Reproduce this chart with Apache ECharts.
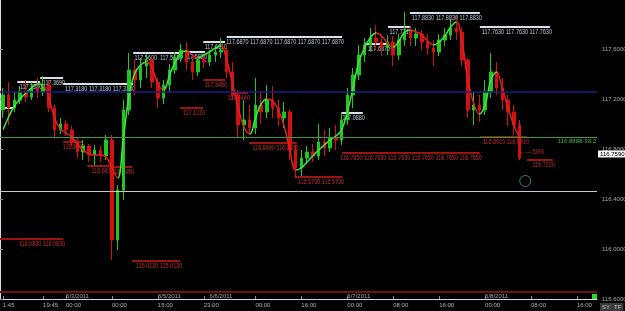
<!DOCTYPE html>
<html>
<head>
<meta charset="utf-8">
<script src="https://cdn.jsdelivr.net/npm/echarts@6/dist/echarts.min.js"></script>
<style>
  html, body { margin: 0; padding: 0; background: #000; }
  #chart { width: 625px; height: 311px; }
</style>
</head>
<body>
<div id="chart"></div>
<script>
// hourly candles, [open, close, low, high]
var candles = [
  [117.112, 117.232, 117.048, 117.288], [117.232, 117.128, 116.992, 117.336], [117.128, 117.192, 117.096, 117.256],
  [117.192, 117.256, 117.160, 117.304], [117.256, 117.216, 117.176, 117.352], [117.216, 117.288, 117.192, 117.336],
  [117.288, 117.256, 117.208, 117.368], [117.256, 117.312, 117.224, 117.384], [117.312, 117.128, 117.096, 117.352],
  [117.128, 116.952, 116.896, 117.152], [116.952, 117.000, 116.920, 117.048], [117.000, 116.952, 116.904, 117.032],
  [116.952, 116.856, 116.824, 116.984], [116.856, 116.776, 116.728, 116.888], [116.776, 116.824, 116.712, 116.872],
  [116.824, 116.752, 116.696, 116.840], [116.752, 116.792, 116.672, 116.832], [116.792, 116.744, 116.696, 116.824],
  [116.744, 116.872, 116.712, 116.912], [116.872, 116.072, 115.912, 116.912], [116.072, 116.472, 115.992, 116.512],
  [116.472, 117.112, 116.392, 117.192], [117.112, 117.432, 117.072, 117.568], [117.432, 117.352, 117.232, 117.512],
  [117.352, 117.464, 117.288, 117.528], [117.464, 117.512, 117.368, 117.560], [117.512, 117.336, 117.288, 117.544],
  [117.336, 117.208, 117.128, 117.368], [117.208, 117.312, 117.160, 117.352], [117.312, 117.432, 117.256, 117.480],
  [117.432, 117.528, 117.400, 117.576], [117.528, 117.592, 117.496, 117.640], [117.592, 117.496, 117.432, 117.656],
  [117.496, 117.416, 117.352, 117.544], [117.416, 117.512, 117.384, 117.544], [117.512, 117.496, 117.448, 117.560],
  [117.496, 117.552, 117.464, 117.592], [117.552, 117.576, 117.496, 117.624], [117.576, 117.592, 117.528, 117.688],
  [117.592, 117.416, 117.368, 117.632], [117.416, 117.232, 117.192, 117.496], [117.232, 116.992, 116.888, 117.272],
  [116.992, 117.032, 116.872, 117.192], [117.032, 116.968, 116.912, 117.152], [116.968, 117.152, 116.920, 117.368],
  [117.152, 117.096, 117.000, 117.256], [117.096, 117.192, 117.048, 117.312], [117.192, 117.128, 117.048, 117.304],
  [117.128, 117.048, 116.984, 117.192], [117.048, 117.096, 116.968, 117.176], [117.096, 116.792, 116.712, 117.112],
  [116.792, 116.648, 116.568, 116.832], [116.648, 116.728, 116.584, 116.792], [116.728, 116.776, 116.680, 116.824],
  [116.776, 116.744, 116.696, 116.840], [116.744, 116.856, 116.712, 117.000], [116.856, 116.808, 116.744, 116.952],
  [116.808, 116.888, 116.776, 116.968], [116.888, 116.872, 116.792, 116.992], [116.872, 117.032, 116.832, 117.096],
  [117.032, 117.232, 116.992, 117.288], [117.232, 117.392, 117.128, 117.448], [117.392, 117.552, 117.352, 117.632],
  [117.552, 117.632, 117.496, 117.688], [117.632, 117.688, 117.576, 117.768], [117.688, 117.656, 117.592, 117.792],
  [117.656, 117.608, 117.544, 117.720], [117.608, 117.656, 117.552, 117.712], [117.656, 117.552, 117.464, 117.704],
  [117.552, 117.672, 117.512, 117.720], [117.672, 117.736, 117.624, 117.896], [117.736, 117.688, 117.624, 117.784],
  [117.688, 117.720, 117.624, 117.768], [117.720, 117.656, 117.592, 117.752], [117.656, 117.608, 117.552, 117.720],
  [117.608, 117.576, 117.464, 117.672], [117.576, 117.672, 117.544, 117.720], [117.672, 117.712, 117.624, 117.768],
  [117.712, 117.768, 117.672, 117.832], [117.768, 117.736, 117.672, 117.864], [117.736, 117.512, 117.464, 117.768],
  [117.512, 117.112, 117.048, 117.528], [117.112, 117.152, 116.992, 117.256], [117.152, 117.112, 117.016, 117.232],
  [117.112, 117.256, 117.072, 117.352], [117.256, 117.416, 117.208, 117.568], [117.416, 117.288, 117.232, 117.496],
  [117.288, 117.192, 117.112, 117.368], [117.192, 117.096, 116.984, 117.232], [117.096, 116.992, 116.912, 117.152],
  [116.992, 116.728, 116.712, 117.032]
];

// smoothed average drawn over the candles
var maValues = [
  116.952, 117.056, 117.144, 117.200, 117.248, 117.288, 117.320, 117.312, 117.208, 117.048,
  116.960, 116.928, 116.896, 116.840, 116.792, 116.760, 116.752, 116.752, 116.736, 116.648,
  116.568, 116.888, 117.232, 117.408, 117.472, 117.496, 117.448, 117.320, 117.272, 117.384,
  117.496, 117.568, 117.584, 117.552, 117.528, 117.552, 117.576, 117.608, 117.624, 117.512,
  117.328, 117.128, 116.976, 116.920, 117.048, 117.160, 117.200, 117.184, 117.112, 116.984,
  116.792, 116.632, 116.648, 116.696, 116.744, 116.792, 116.832, 116.872, 116.904, 116.952,
  117.096, 117.288, 117.496, 117.608, 117.688, 117.728, 117.704, 117.648, 117.616, 117.664,
  117.736, 117.752, 117.736, 117.712, 117.664, 117.632, 117.656, 117.704, 117.776, 117.816,
  117.656, 117.352, 117.168, 117.080, 117.152, 117.352, 117.416, 117.288, 117.128, 116.992,
  116.888
];
// [from, to, rising?]
var maSegments = [
  [0, 7, 1], [7, 20, 0], [20, 25, 1], [25, 28, 0], [28, 32, 1], [32, 34, 0], [34, 38, 1],
  [38, 43, 0], [43, 46, 1], [46, 51, 0], [51, 65, 1], [65, 68, 0], [68, 71, 1], [71, 75, 0],
  [75, 79, 1], [79, 83, 0], [83, 86, 1], [86, 91, 0]
];

var slotCount = 104;
var timeTicks = [[0, '1:45'], [7, '19:45'], [11, '00:00'], [19, '00:00'], [27, '15:00'], [35, '23:00'],
  [44, '00:00'], [52, '16:00'], [60, '00:00'], [68, '08:00'], [76, '16:00'], [84, '00:00'],
  [92, '08:00'], [100, '16:00']];
var dateTicks = [[13, '6/3/2011'], [29, '6/5/2011'], [38, '6/6/2011'], [62, '6/7/2011'], [86, '6/8/2011']];

// level lines: [fromSlot, toSlot, price, text]
var resistLevels = [
  [0, 2.6, 117.128, ''],
  [3.0, 7.0, 117.336, '117.3380'],
  [7.0, 11.0, 117.368, '117.3690'],
  [11.0, 23.2, 117.320, '117.3180 117.3180 117.3180'],
  [23.2, 27.0, 117.568, '117.5600'],
  [27.0, 31.4, 117.568, '117.5630'],
  [32.2, 35.7, 117.576, '117.5820'],
  [35.4, 39.2, 117.656, '117.6610'],
  [39.5, 59.6, 117.696, '117.6870 117.6870 117.6870 117.6870 117.6870'],
  [59.6, 63.2, 117.088, '117.0880'],
  [63.6, 67.6, 117.640, '117.6370'],
  [67.6, 71.4, 117.776, '117.7710'],
  [71.4, 83.6, 117.888, '117.8830 117.8830 117.8830'],
  [83.6, 95.8, 117.776, '117.7630 117.7630 117.7630']
];
var supportLevels = [
  [0, 11.0, 116.080, '116.0830 116.0830'],
  [11.0, 14.5, 116.856, '116.8560'],
  [15.2, 19.5, 116.664, '116.6610'],
  [19.5, 23.0, 116.656, '116.6490'],
  [23.0, 31.4, 115.904, '115.9130 115.9130'],
  [31.4, 35.4, 117.128, '117.1220'],
  [35.4, 39.2, 117.352, '117.3480'],
  [40.6, 43.2, 117.248, '117.2440'],
  [43.4, 51.7, 116.848, '116.8490 116.8490'],
  [51.4, 59.6, 116.576, '116.5730 116.5730'],
  [59.6, 83.6, 116.768, '116.7650 116.7650 116.7650 116.7650 116.7650 116.7650'],
  [83.6, 91.8, 116.896, '116.8910 116.8910'],
  [91.8, 96.3, 116.712, '116.7220']
];
var noteArrow = [90.6, 116.772, '\u2190\u2014 50%'];
var circleMark = [91.5, 116.544];

var blueLevel = 117.264;
var fibLevel = 116.8888;
var whiteLevel = 116.456;
var floorLevel = 115.664;
var lastPrice = 116.759;

var smallFont = "'Liberation Sans', sans-serif";

var timeCats = [], dateCats = [];
for (var i = 0; i < slotCount; i++) { timeCats.push(''); dateCats.push(''); }
timeTicks.forEach(function (t) { timeCats[t[0]] = t[1]; });
dateTicks.forEach(function (t) { dateCats[t[0]] = t[1]; });

var levels = [];
resistLevels.forEach(function (l) { levels.push(l.concat(['w'])); });
supportLevels.forEach(function (l) { levels.push(l.concat(['r'])); });

function renderLevel(params, api) {
    var lv = levels[params.dataIndex];
    var p1 = api.coord([lv[0], lv[2]]);
    var p2 = api.coord([lv[1], lv[2]]);
    var red = lv[4] === 'r';
    return {
        type: 'group',
        children: [
            {type: 'line', shape: {x1: p1[0], y1: p1[1], x2: p2[0], y2: p2[1]},
             style: {stroke: red ? '#9a1414' : '#d6e0e8', lineWidth: 2}},
            {type: 'text', x: p2[0] + 2, y: p1[1] + 2, scaleX: 0.78,
             style: {text: lv[3], x: 0, y: 0, align: 'right', verticalAlign: 'top',
             fill: red ? '#c42a2a' : '#b8c8d8', fontSize: 7, fontFamily: smallFont}}
        ]
    };
}

function renderNote(params, api) {
    var p = api.coord([noteArrow[0], noteArrow[1]]);
    return {type: 'text', x: p[0], y: p[1], scaleX: 0.8,
        style: {text: noteArrow[2], x: 0, y: 0, verticalAlign: 'middle',
        fill: '#c42a2a', fontSize: 7, fontFamily: smallFont}};
}

var myChart = echarts.init(document.getElementById('chart'));

var option = {
    backgroundColor: '#000',
    animation: false,
    grid: {left: 0, right: 28, top: -1, bottom: 12, outerBoundsMode: 'none'},
    xAxis: [
        {
            type: 'category', data: timeCats, boundaryGap: true,
            axisLine: {lineStyle: {color: '#d8d8d8', width: 1}},
            axisTick: {show: true, inside: true, length: 3, alignWithLabel: true,
                interval: function (idx, val) { return val !== ''; }, lineStyle: {color: '#909090'}},
            axisLabel: {interval: 0, align: 'left', margin: 3, color: '#b0b0b0', fontSize: 6, fontFamily: smallFont},
            splitLine: {show: false}
        },
        {type: 'value', min: 0, max: slotCount, show: false},
        {
            type: 'category', data: dateCats, boundaryGap: true, position: 'bottom', offset: 0,
            axisLine: {show: false}, axisTick: {show: false},
            axisLabel: {inside: true, interval: 0, margin: 0, color: '#a8a8a8', fontSize: 6, fontFamily: smallFont},
            splitLine: {show: false}
        }
    ],
    yAxis: {
        type: 'value', position: 'right', min: 115.6, max: 118.0, interval: 0.4,
        axisLine: {show: true, lineStyle: {color: '#d8d8d8'}},
        axisTick: {show: true, length: 3, lineStyle: {color: '#909090'}},
        axisLabel: {color: '#a8a8a8', fontSize: 6, margin: 5, fontFamily: smallFont, showMaxLabel: false,
            formatter: function (v) { return v.toFixed(4); }},
        splitLine: {show: false}
    },
    visualMap: {
        show: false, type: 'piecewise', seriesIndex: 1, dimension: 0,
        pieces: maSegments.map(function (s, k) {
            var p = {gte: s[0], color: s[2] ? '#3ee83e' : '#e02020'};
            if (k === maSegments.length - 1) p.lte = s[1]; else p.lt = s[1];
            return p;
        })
    },
    series: [
        {
            type: 'candlestick', xAxisIndex: 0, data: candles, barWidth: 3,
            itemStyle: {color: '#1ec81e', color0: '#d41010', borderColor: '#1ec81e', borderColor0: '#d41010', borderWidth: 1},
            markLine: {
                silent: true, symbol: 'none', animation: false,
                label: {show: false},
                data: [
                    {yAxis: blueLevel, lineStyle: {color: '#1c1c86', width: 1.5, type: 'solid'}},
                    {yAxis: fibLevel, lineStyle: {color: '#3c9a3c', width: 1, type: 'solid'},
                     label: {show: true, position: 'insideEndBottom', distance: 1, formatter: '116.8888-38.2',
                        color: '#44b444', fontSize: 6, fontFamily: smallFont}},
                    {yAxis: whiteLevel, lineStyle: {color: '#c8c8c8', width: 1, type: 'solid'}},
                    {yAxis: floorLevel, lineStyle: {color: '#6e1414', width: 2, type: 'solid'}},
                    {yAxis: lastPrice, lineStyle: {color: 'rgba(0,0,0,0)', width: 1},
                     label: {show: true, position: 'end', distance: 1, formatter: '116.7590',
                        color: '#000', backgroundColor: '#f4f4f4', padding: [1, 2, 0, 2], fontSize: 6, fontFamily: smallFont}}
                ]
            }
        },
        {
            type: 'line', xAxisIndex: 0, data: maValues, smooth: 0.4, showSymbol: false,
            lineStyle: {width: 1.5}
        },
        {
            type: 'custom', xAxisIndex: 1, renderItem: renderLevel, silent: true,
            encode: {x: [0, 1], y: 2},
            data: levels.map(function (l) { return [l[0], l[1], l[2]]; })
        },
        {
            type: 'custom', xAxisIndex: 1, renderItem: renderNote, silent: true,
            encode: {x: 0, y: 1},
            data: [[noteArrow[0], noteArrow[1]]]
        },
        {
            type: 'scatter', xAxisIndex: 1, data: [circleMark], symbolSize: 11, silent: true,
            itemStyle: {color: 'rgba(0,0,0,0)', borderColor: '#3a9c9c', borderWidth: 1}
        }
    ],
    graphic: [
        {type: 'rect', left: 592, top: 294, shape: {width: 5, height: 5}, style: {fill: '#22e022'}},
        {type: 'text', left: 600, top: 303, style: {text: 'SY', fill: '#c8c8c8', fontSize: 6, fontFamily: smallFont,
            backgroundColor: '#3a3a3a', padding: [1, 2]}},
        {type: 'text', left: 612, top: 303, style: {text: 'TF', fill: '#c8c8c8', fontSize: 6, fontFamily: smallFont,
            backgroundColor: '#3a3a3a', padding: [1, 2]}}
    ]
};

myChart.setOption(option);
</script>
</body>
</html>
